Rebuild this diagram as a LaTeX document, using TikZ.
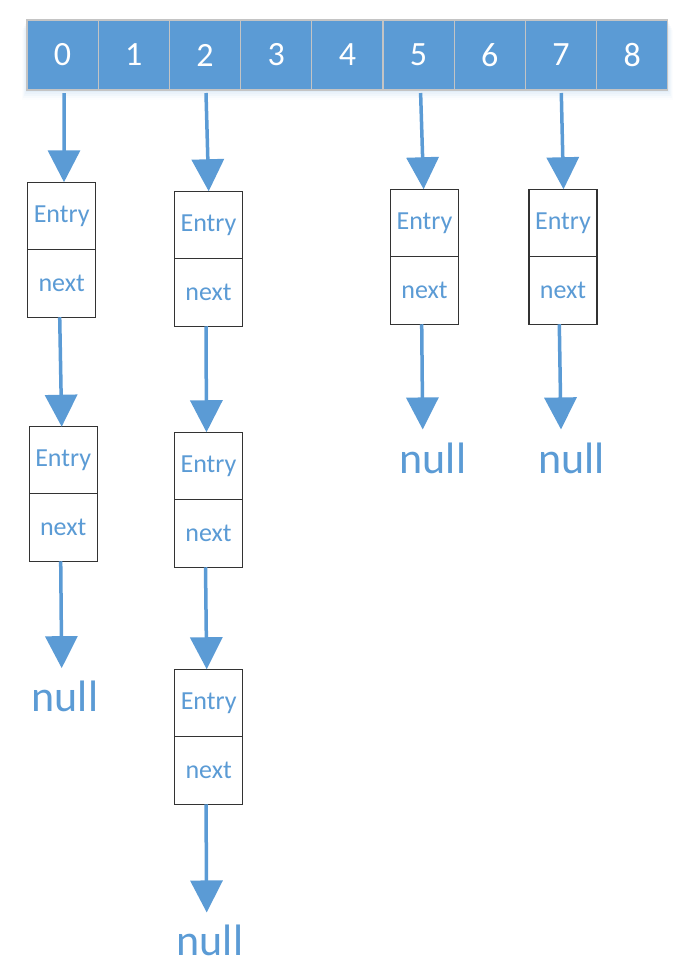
\documentclass[tikz,border=0pt]{standalone}
\usepackage{fontspec}
\setmainfont{Carlito}
\usetikzlibrary{arrows.meta}
\definecolor{blu}{HTML}{5B9BD5}
\definecolor{cellline}{HTML}{C4C4C4}
\tikzset{
  cell/.style={draw=cellline,line width=1.2pt,fill=blu,minimum width=71.2pt,minimum height=70pt,inner sep=0pt,outer sep=0pt,text=white,font=\fontsize{34}{34}\selectfont},
  half/.style={draw=black!80,line width=1.3pt,fill=white,minimum width=68pt,minimum height=67.5pt,inner sep=0pt,outer sep=0pt,text=blu,font=\fontsize{26}{26}\selectfont},
  nulltxt/.style={inner sep=0pt,outer sep=0pt,anchor=base,text=blu,font=\fontsize{44}{44}\selectfont},
  arr/.style={draw=blu,line width=3.5pt,-{Triangle[width=32pt,length=32pt]},blu}
}
\begin{document}
\begin{tikzpicture}[x=1pt,y=-1pt]
\useasboundingbox (0,0) rectangle (692,974);
% soft shadow under the array
\foreach \d/\o in {2/0.06,4/0.05,6/0.04,8/0.03,10/0.02}{
  \fill[blu,opacity=\o] (27-\d/2,20+\d) rectangle (668+\d/2,90+\d);
}
% array cells
\foreach \i in {0,...,8}{
  \node[cell] (c\i) at ({27+71.2*(\i+0.5)},55) {\i};
}
% column 0
\node[half] (e01) at (61.7,216) {Entry};
\node[half] (n01) at (61.7,283.5) {next};
\node[half] (e02) at (63.2,460.5) {Entry};
\node[half] (n02) at (63.2,527.5) {next};
\node[nulltxt] (z0) at (65,711.7) {null};
% column 2
\node[half] (e21) at (208.5,225) {Entry};
\node[half] (n21) at (208.5,292.5) {next};
\node[half] (e22) at (208.5,466) {Entry};
\node[half] (n22) at (208.5,533.5) {next};
\node[half] (e23) at (208.7,703) {Entry};
\node[half] (n23) at (208.7,770.5) {next};
\node[nulltxt] (z2) at (210,955) {null};
% column 5
\node[half] (e51) at (424.5,223) {Entry};
\node[half] (n51) at (424.5,290.5) {next};
\node[nulltxt] (z5) at (433,473) {null};
% column 7
\node[half] (e71) at (563,223) {Entry};
\node[half] (n71) at (563,290.5) {next};
\node[nulltxt] (z7) at (571.7,473) {null};
% arrows from the array
\draw[arr] ([xshift=1.4pt,yshift=-3pt]c0.south) -- ([xshift=2.3pt]e01.north);
\draw[arr] ([xshift=1pt,yshift=-3pt]c2.south) -- ([xshift=0.2pt]e21.north);
\draw[arr] ([xshift=2pt,yshift=-3pt]c5.south) -- ([xshift=-0.9pt]e51.north);
\draw[arr] ([xshift=0.3pt,yshift=-3pt]c7.south) -- ([xshift=0.5pt]e71.north);
% chain arrows
\draw[arr] ([xshift=-2pt]n01.south) -- ([xshift=-1.5pt]e02.north);
\draw[arr] ([xshift=-2.5pt]n02.south) -- ([xshift=-3.3pt,yshift=13pt]z0.north);
\draw[arr] ([xshift=-2.5pt]n21.south) -- ([xshift=-2pt]e22.north);
\draw[arr] ([xshift=-3pt]n22.south) -- ([xshift=-2pt]e23.north);
\draw[arr] ([xshift=-2.7pt]n23.south) -- ([xshift=-3.3pt,yshift=12pt]z2.north);
\draw[arr] ([xshift=-2.8pt]n51.south) -- ([xshift=-10.3pt,yshift=13pt]z5.north);
\draw[arr] ([xshift=-3.7pt]n71.south) -- ([xshift=-10.7pt,yshift=13pt]z7.north);
\end{tikzpicture}
\end{document}
